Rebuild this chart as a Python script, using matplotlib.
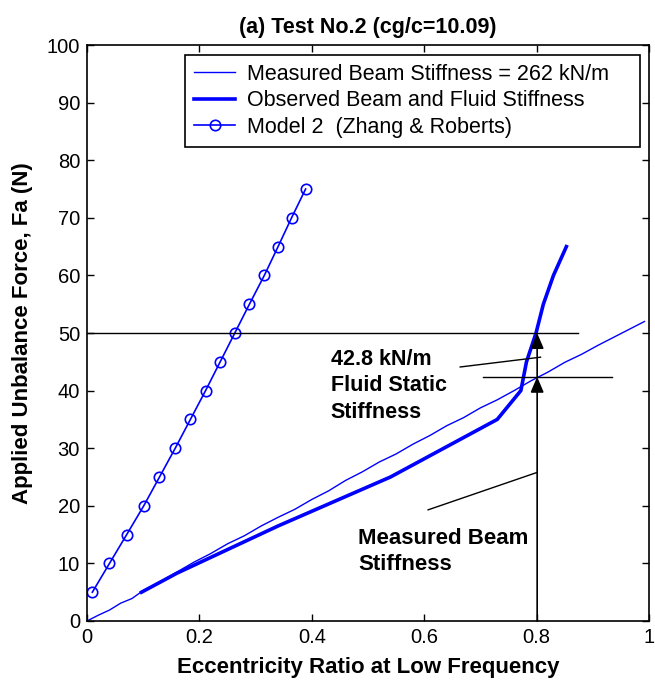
import matplotlib
matplotlib.use("Agg")
from matplotlib import pyplot as plt

plt.rcParams['font.family'] = ['Liberation Sans', 'DejaVu Sans']

# measured beam stiffness (thin line)
beam_x = [0, 0.02, 0.04, 0.06, 0.08, 0.10, 0.13, 0.16, 0.19, 0.22, 0.25, 0.28,
          0.31, 0.34, 0.37, 0.40, 0.43, 0.46, 0.49, 0.52, 0.55, 0.58, 0.61, 0.64,
          0.67, 0.70, 0.73, 0.76, 0.79, 0.82, 0.85, 0.88, 0.91, 0.94, 0.97, 0.992]
beam_y = [0, 1.0, 1.9, 3.1, 3.9, 5.3, 6.8, 8.5, 10.2, 11.7, 13.4, 14.8,
          16.5, 18.0, 19.4, 21.1, 22.6, 24.4, 25.9, 27.6, 29.0, 30.7, 32.2, 33.9,
          35.3, 37.0, 38.4, 40.0, 41.7, 43.2, 44.9, 46.3, 47.9, 49.4, 50.9, 52.0]

# observed beam and fluid stiffness (thick line)
obs_x = [0.097, 0.16, 0.34, 0.54, 0.73, 0.772, 0.782, 0.799, 0.812, 0.830, 0.853]
obs_y = [5, 8.3, 16.5, 25, 35, 40, 45, 50, 55, 60, 65]

# model 2 (Zhang & Roberts)
model_x = [0.0095, 0.040, 0.0706, 0.101, 0.129, 0.157, 0.184, 0.211, 0.237,
           0.263, 0.289, 0.3155, 0.340, 0.364, 0.389]
model_y = [5, 10, 15, 20, 25, 30, 35, 40, 45, 50, 55, 60, 65, 70, 75]

fig = plt.figure(figsize=(6.55, 6.84), dpi=100)
ax = fig.add_axes([87 / 655, 1 - 621 / 684, 562 / 655, 576 / 684])

ax.plot(beam_x, beam_y, color='blue', lw=1.0,
        label='Measured Beam Stiffness = 262 kN/m')
ax.plot(obs_x, obs_y, color='blue', lw=2.6,
        label='Observed Beam and Fluid Stiffness')
ax.plot(model_x, model_y, color='blue', lw=1.2, marker='o', ms=7.5,
        mfc='none', mew=1.2, label='Model 2  (Zhang & Roberts)')

# annotation lines
ax.plot([0, 0.873], [50, 50], color='k', lw=1)
ax.plot([0.705, 0.935], [42.4, 42.4], color='k', lw=1)
ax.plot([0.664, 0.807], [44.1, 45.8], color='k', lw=1)
ax.plot([0.607, 0.801], [19.3, 25.8], color='k', lw=1)

arrow = dict(arrowstyle='-|>,head_length=0.94,head_width=0.4', color='k',
             lw=1.2, shrinkA=0, shrinkB=0, mutation_scale=10)
ax.annotate('', xy=(0.801, 42.4), xytext=(0.801, 0), arrowprops=arrow)
ax.annotate('', xy=(0.801, 50), xytext=(0.801, 42.4), arrowprops=arrow)

ax.text(0.434, 47.2, '42.8 kN/m\nFluid Static\nStiffness', fontsize=15.5,
        fontweight='bold', va='top', ha='left', linespacing=1.33)
ax.text(0.483, 16.2, 'Measured Beam\nStiffness', fontsize=16,
        fontweight='bold', va='top', ha='left', linespacing=1.36)

ax.set_xlim(0, 1)
ax.set_ylim(0, 100)
ax.set_xticks([0, 0.2, 0.4, 0.6, 0.8, 1])
ax.set_xticklabels(['0', '0.2', '0.4', '0.6', '0.8', '1'])
ax.set_yticks(range(0, 101, 10))
ax.tick_params(direction='in', top=True, right=True, labelsize=14.5,
               length=5, width=1, pad=5)
for s in ax.spines.values():
    s.set_linewidth(1.2)

ax.set_xlabel('Eccentricity Ratio at Low Frequency', fontsize=16,
              fontweight='bold', labelpad=7)
ax.set_ylabel('Applied Unbalance Force, Fa (N)', fontsize=16,
              fontweight='bold', labelpad=10)
fig.text(368 / 655, 1 - 27 / 684, '(a) Test No.2 (cg/c=10.09)', fontsize=15.5,
         fontweight='bold', ha='center', va='center')

leg = ax.legend(loc='upper left', bbox_to_anchor=(0.1744, 0, 0.8096, 0.983),
                mode='expand', fontsize=15.5, fancybox=False, edgecolor='k',
                framealpha=1, borderpad=0.42, labelspacing=0.25,
                handlelength=1.9, handletextpad=0.55, borderaxespad=0)
leg.get_frame().set_linewidth(1.2)

fig.savefig('out.png', dpi=100)
